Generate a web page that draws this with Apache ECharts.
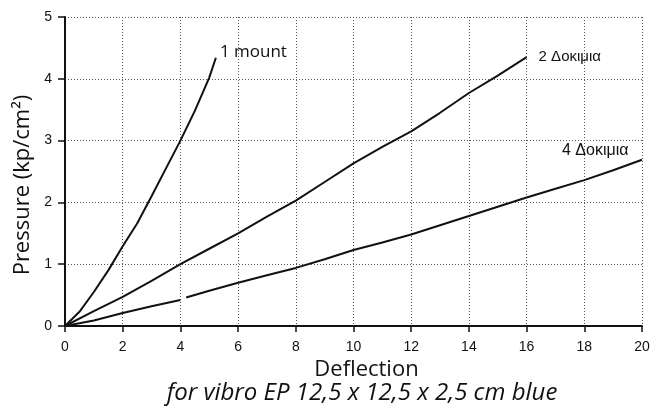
<!DOCTYPE html>
<html>
<head>
<meta charset="utf-8">
<script src="https://cdn.jsdelivr.net/npm/echarts@6/dist/echarts.min.js"></script>
<style>
  html, body { margin: 0; padding: 0; background: #fff; }
  #chart { width: 658px; height: 411px; }
</style>
</head>
<body>
<div id="chart"></div>
<script>
// values
var mountX = [0, 0.5, 1, 1.5, 2, 2.5, 3, 3.5, 4, 4.5, 5, 5.23];
var mountY = [0, 0.23, 0.55, 0.9, 1.29, 1.66, 2.1, 2.55, 3.0, 3.48, 4.02, 4.34];

var twoX = [0, 1, 2, 3, 4, 5, 6, 7, 8, 9, 10, 11, 12, 13, 14, 15, 16];
var twoY = [0, 0.24, 0.47, 0.73, 1.0, 1.25, 1.5, 1.77, 2.03, 2.33, 2.63, 2.9, 3.15, 3.45, 3.77, 4.05, 4.35];

// small break in the trace just after x = 4
var fourX = [0, 1, 2, 3, 4.0, 4.1, 4.2, 5, 6, 7, 8, 9, 10, 11, 12, 13, 14, 15, 16, 17, 18, 19, 20];
var fourY = [0, 0.09, 0.21, 0.32, 0.42, null, 0.46, 0.57, 0.7, 0.82, 0.94, 1.08, 1.23, 1.35, 1.48, 1.63, 1.78, 1.93, 2.08, 2.22, 2.36, 2.52, 2.69];

var seriesNames = ['1 mount', '2 Δοκιμια', '4 Δοκιμια'];

function pairs(xs, ys) {
    return xs.map(function (x, i) { return [x, ys[i] === null ? '-' : ys[i]]; });
}

var chart = echarts.init(document.getElementById('chart'));

var lineStyle = { color: '#111', width: 2 };
var tickFont = { color: '#111', fontFamily: 'Liberation Sans, Arial', fontSize: 14 };
var gridLine = { lineStyle: { color: '#555', type: [1, 2], width: 1 } };

var option = {
    animation: false,
    title: {
        text: 'for vibro EP 12,5 x 12,5 x 2,5 cm blue',
        left: 357,
        textAlign: 'center',
        top: 376,
        textStyle: { fontFamily: 'Open Sans', fontStyle: 'italic', fontWeight: 'normal', fontSize: 24, color: '#111' }
    },
    grid: { left: 65, right: 16, top: 17, bottom: 85 },
    xAxis: {
        type: 'value',
        min: 0, max: 20, interval: 2,
        name: 'Deflection',
        nameLocation: 'middle',
        nameGap: 33,
        nameTextStyle: { fontFamily: 'Open Sans', fontSize: 22, color: '#111', padding: [0, 0, 0, 26] },
        axisLine: { lineStyle: { color: '#111', width: 2 } },
        axisTick: { length: 6, lineStyle: { color: '#111', width: 1.5 } },
        axisLabel: Object.assign({ margin: 14 }, tickFont),
        splitLine: gridLine
    },
    yAxis: {
        type: 'value',
        min: 0, max: 5, interval: 1,
        name: 'Pressure (kp/cm²)',
        nameLocation: 'middle',
        nameGap: 30,
        nameTextStyle: { fontFamily: 'Open Sans', fontSize: 22, color: '#111', padding: [0, 27, 0, 0] },
        axisLine: { show: true, lineStyle: { color: '#111', width: 2 } },
        axisTick: { show: true, length: 7, lineStyle: { color: '#111', width: 1.5 } },
        axisLabel: Object.assign({ margin: 13 }, tickFont),
        splitLine: gridLine
    },
    series: [
        {
            name: seriesNames[0], type: 'line', showSymbol: false, data: pairs(mountX, mountY),
            lineStyle: lineStyle,
            endLabel: { show: true, formatter: '{a}', offset: [-4, -6], fontFamily: 'Open Sans', fontSize: 17, color: '#111' }
        },
        {
            name: seriesNames[1], type: 'line', showSymbol: false, data: pairs(twoX, twoY),
            lineStyle: lineStyle,
            endLabel: { show: true, formatter: '{a}', offset: [4, 0], fontFamily: 'Liberation Sans', fontSize: 15, color: '#111' }
        },
        {
            name: seriesNames[2], type: 'line', showSymbol: false, data: pairs(fourX, fourY),
            lineStyle: lineStyle,
            endLabel: { show: true, formatter: '{a}', offset: [-88, -9], fontFamily: 'Liberation Sans', fontSize: 16, color: '#111' }
        }
    ]
};

chart.setOption(option);
</script>
</body>
</html>
